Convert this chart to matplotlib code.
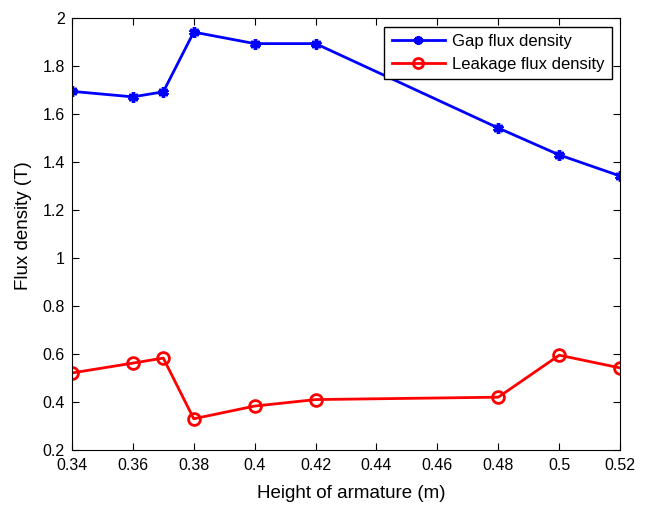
import numpy as np
import matplotlib
matplotlib.use("Agg")
import matplotlib.pyplot as plt

plt.rcParams['font.family'] = ['Liberation Sans', 'DejaVu Sans']

height = [0.34, 0.36, 0.37, 0.38, 0.40, 0.42, 0.48, 0.50, 0.52]
gap_flux = [1.695, 1.672, 1.693, 1.942, 1.894, 1.894, 1.542, 1.430, 1.342]
leak_flux = [0.521, 0.562, 0.583, 0.330, 0.383, 0.410, 0.420, 0.595, 0.542]

xticks = [0.34, 0.36, 0.38, 0.40, 0.42, 0.44, 0.46, 0.48, 0.50, 0.52]
xticklabels = ["0.34", "0.36", "0.38", "0.4", "0.42", "0.44", "0.46", "0.48", "0.5", "0.52"]
yticks = [0.2, 0.4, 0.6, 0.8, 1.0, 1.2, 1.4, 1.6, 1.8, 2.0]
yticklabels = ["0.2", "0.4", "0.6", "0.8", "1", "1.2", "1.4", "1.6", "1.8", "2"]

fig = plt.figure(figsize=(6.48, 5.05), dpi=100)
ax = fig.add_axes([0.111, 0.109, 0.846, 0.855])

# MATLAB-style asterisk marker
ax.plot(height, gap_flux, "b-", marker=(6, 2, 0), lw=2, ms=7.5, mew=2.5, label="Gap flux density")
ax.plot(height, leak_flux, "r-o", lw=2, ms=8.5, mew=2, mfc="none", label="Leakage flux density")

ax.set_xlim(0.34, 0.52)
ax.set_ylim(0.2, 2.0)
ax.set_xticks(xticks)
ax.set_xticklabels(xticklabels)
ax.set_yticks(yticks)
ax.set_yticklabels(yticklabels)
ax.tick_params(direction="in", top=True, right=True, labelsize=11.5, length=5)
ax.tick_params(axis="x", pad=6)
ax.tick_params(axis="y", pad=5)
ax.set_xlabel("Height of armature (m)", fontsize=13.5)
ax.set_ylabel("Flux density (T)", fontsize=13.5)
ax.xaxis.set_label_coords(0.51, -0.1)
ax.xaxis.label.set_va("center")
ax.yaxis.set_label_coords(-0.088, 0.52)
ax.yaxis.label.set_va("center")

leg = ax.legend(loc="upper right", fontsize=12, fancybox=False, framealpha=1,
                edgecolor="black", borderaxespad=0.5, handlelength=3.2,
                borderpad=0.45, labelspacing=0.45, markerscale=0.85,
                handletextpad=0.4)
leg.get_frame().set_linewidth(1.0)

fig.savefig("out.png", dpi=100)
